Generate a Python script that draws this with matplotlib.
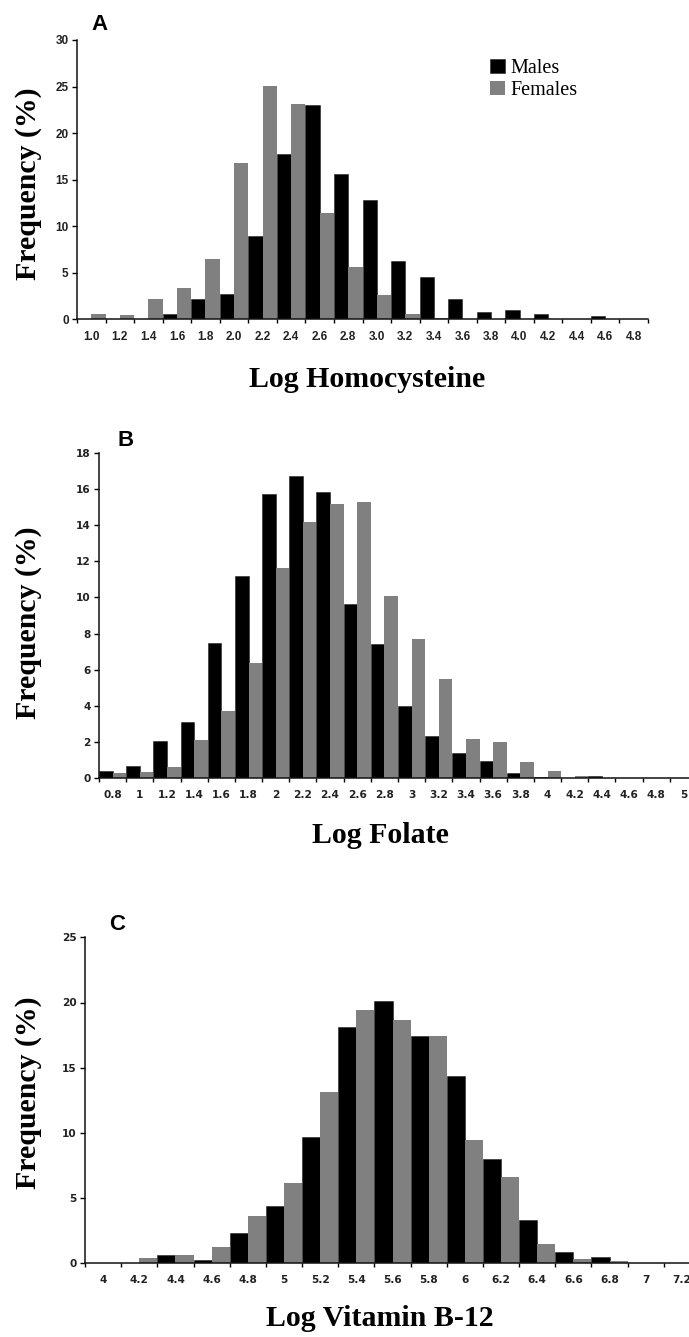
import matplotlib
matplotlib.use("Agg")
import matplotlib.pyplot as plt
import numpy as np

# ---------------- data ----------------
# Panel A: Log Homocysteine
a_bins = ['1.0', '1.2', '1.4', '1.6', '1.8', '2.0', '2.2', '2.4', '2.6', '2.8',
          '3.0', '3.2', '3.4', '3.6', '3.8', '4.0', '4.2', '4.4', '4.6', '4.8']
a_males = [0, 0, 0, 0.55, 2.2, 2.7, 9.0, 17.8, 23.0, 15.6,
           12.8, 6.3, 4.5, 2.2, 0.75, 1.0, 0.55, 0, 0.4, 0]
a_females = [0.55, 0.5, 2.2, 3.4, 6.5, 16.8, 25.1, 23.1, 11.4, 5.6,
             2.6, 0.55, 0.1, 0, 0, 0, 0, 0, 0, 0]

# Panel B: Log Folate
b_bins = ['0.8', '1', '1.2', '1.4', '1.6', '1.8', '2', '2.2', '2.4', '2.6', '2.8',
          '3', '3.2', '3.4', '3.6', '3.8', '4', '4.2', '4.4', '4.6', '4.8', '5']
b_males = [0.42, 0.68, 2.08, 3.1, 7.5, 11.2, 15.7, 16.7, 15.8, 9.65, 7.4,
           4.0, 2.35, 1.42, 0.96, 0.3, 0.07, 0, 0.1, 0, 0, 0]
b_females = [0.28, 0.33, 0.63, 2.12, 3.7, 6.4, 11.65, 14.15, 15.15, 15.25, 10.1,
             7.72, 5.47, 2.2, 2.0, 0.92, 0.38, 0.1, 0, 0, 0, 0]

# Panel C: Log Vitamin B-12
c_bins = ['4', '4.2', '4.4', '4.6', '4.8', '5', '5.2', '5.4', '5.6', '5.8',
          '6', '6.2', '6.4', '6.6', '6.8', '7', '7.2']
c_males = [0, 0, 0.6, 0.22, 2.32, 4.38, 9.7, 18.1, 20.15, 17.43,
           14.35, 7.98, 3.35, 0.85, 0.46, 0, 0]
c_females = [0, 0.38, 0.6, 1.25, 3.62, 6.18, 13.15, 19.43, 18.68, 17.4,
             9.45, 6.65, 1.5, 0.35, 0.2, 0, 0]

legend_labels = ['Males', 'Females']

# ---------------- layout ----------------
W, H = 689, 1337
fig = plt.figure(figsize=(W / 100, H / 100), dpi=100)

SERIF = ['Liberation Serif', 'DejaVu Serif']
SANS = ['Liberation Sans', 'DejaVu Sans']
GRAY = '#808080'


def add_px_axes(box):
    left, right, top, bottom = box
    return fig.add_axes([left / W, 1 - bottom / H, (right - left) / W, (bottom - top) / H])


def to_axes(box, x, y):
    left, right, top, bottom = box
    return (x - left) / (right - left), (bottom - y) / (bottom - top)


panels = [
    dict(box=(77, 648, 40, 319.3), bins=a_bins, males=a_males, females=a_females,
         ymax=30, ystep=5, letter='A', letter_xy=(100, 25),
         xlabel='Log Homocysteine', xlabel_xy=(367, 379), ylabel_xy=(29, 184),
         tickfont=SANS, ticksize=8.5),
    dict(box=(99, 697, 452.7, 778.3), bins=b_bins, males=b_males, females=b_females,
         ymax=18, ystep=2, letter='B', letter_xy=(126, 440),
         xlabel='Log Folate', xlabel_xy=(380, 836), ylabel_xy=(29, 623),
         tickfont=['DejaVu Sans'], ticksize=7.6),
    dict(box=(85, 700, 937.3, 1263.3), bins=c_bins, males=c_males, females=c_females,
         ymax=25, ystep=5, letter='C', letter_xy=(117, 925),
         xlabel='Log Vitamin B-12', xlabel_xy=(380, 1318), ylabel_xy=(29, 1093),
         tickfont=['DejaVu Sans'], ticksize=7.6),
]

for i, p in enumerate(panels):
    ax = add_px_axes(p['box'])
    n = len(p['bins'])
    idx = np.arange(n)
    bm = ax.bar(idx, p['males'], width=0.5, align='edge', color='black',
                edgecolor='#222222', linewidth=0.4, label=legend_labels[0], zorder=2)
    bf = ax.bar(idx + 0.5, p['females'], width=0.5, align='edge', color=GRAY,
                linewidth=0, label=legend_labels[1], zorder=2)
    ax.set_xlim(0, n)
    ax.set_ylim(0, p['ymax'])

    # tick marks at category boundaries, labels at centres
    ax.set_xticks(np.arange(n + 1))
    ax.set_xticklabels([])
    ax.set_xticks(idx + 0.5, minor=True)
    ax.set_xticklabels(p['bins'], minor=True, family=p['tickfont'],
                       fontweight='bold', fontsize=p['ticksize'], color='#222222')
    ax.tick_params(axis='x', which='major', direction='out', length=3, width=1.0)
    ax.tick_params(axis='x', which='minor', length=0, pad=8.5)

    yt = np.arange(0, p['ymax'] + 0.01, p['ystep'])
    ax.set_yticks(yt)
    ax.set_yticklabels([f'{v:g}' for v in yt], family=p['tickfont'],
                       fontweight='bold', fontsize=p['ticksize'], color='#222222')
    ax.tick_params(axis='y', direction='out', length=3.5, width=1.0, pad=2.5)

    for s in ('top', 'right'):
        ax.spines[s].set_visible(False)
    for s in ('left', 'bottom'):
        ax.spines[s].set_linewidth(1.1)
        ax.spines[s].set_color('#111111')
        ax.spines[s].set_zorder(3)

    ax.set_xlabel(p['xlabel'], family=SERIF, fontweight='bold', fontsize=21.5,
                  va='center', ha='center')
    ax.xaxis.set_label_coords(*to_axes(p['box'], *p['xlabel_xy']))
    ax.set_ylabel('Frequency (%)', family=SERIF, fontweight='bold', fontsize=21.5,
                  va='center', ha='center')
    ax.yaxis.set_label_coords(*to_axes(p['box'], *p['ylabel_xy']))

    lx, ly = to_axes(p['box'], *p['letter_xy'])
    ax.text(lx, ly, p['letter'], transform=ax.transAxes, ha='center', va='center',
            family=SANS, fontweight='bold', fontsize=16, clip_on=False)

    if i == 0:
        ax.legend(handles=[bm, bf], loc='upper left',
                  bbox_to_anchor=(490 / W, 1 - 59 / H), bbox_transform=fig.transFigure,
                  frameon=False, prop={'family': SERIF, 'size': 14.5},
                  handlelength=0.75, handleheight=0.72, handletextpad=0.28,
                  labelspacing=0.12, borderpad=0, borderaxespad=0)

fig.savefig('out.png', dpi=100)
